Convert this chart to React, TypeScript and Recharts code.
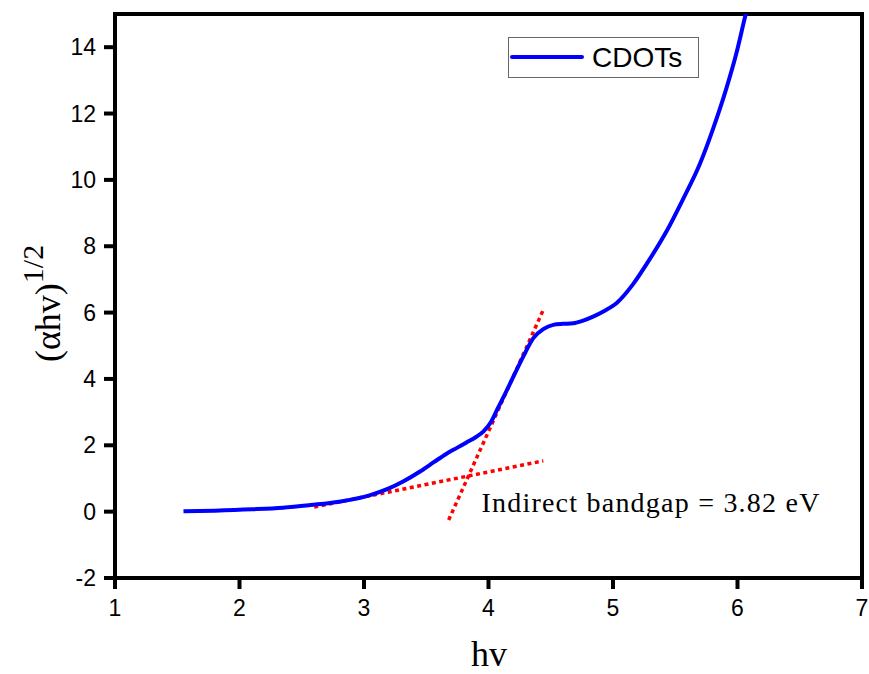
import React from 'react';
import { LineChart, Line, XAxis, YAxis, ReferenceArea, ReferenceDot, Legend } from 'recharts';

// photon energy hv (eV)
const hv = [1.55, 1.8, 2.1, 2.35, 2.57, 2.8, 3.05, 3.2, 3.31, 3.45, 3.56, 3.66, 3.75, 3.82, 3.9, 3.96, 4.02, 4.07, 4.12, 4.2, 4.28, 4.36, 4.44, 4.52, 4.6, 4.68, 4.76, 4.84, 4.93, 5.03, 5.16, 5.29, 5.43, 5.56, 5.7, 5.8, 5.91, 5.99, 6.06, 6.1];
// (alpha hv)^(1/2)
const alphaHv = [0.01, 0.03, 0.07, 0.12, 0.2, 0.3, 0.5, 0.7, 0.9, 1.21, 1.49, 1.74, 1.93, 2.08, 2.25, 2.42, 2.7, 3.08, 3.45, 4.07, 4.68, 5.23, 5.5, 5.63, 5.66, 5.68, 5.76, 5.88, 6.05, 6.29, 6.85, 7.58, 8.45, 9.4, 10.5, 11.5, 12.75, 13.8, 14.9, 15.5];

// tangent fits (red dotted)
const lowFitX = [2.6, 4.44];
const lowFitY = [0.14, 1.53];
const steepFitX = [3.68, 4.44];
const steepFitY = [-0.25, 6.08];

const xTicks = [1, 2, 3, 4, 5, 6, 7];
const yTicks = [-2, 0, 2, 4, 6, 8, 10, 12, 14];
const xDomain = [1, 7];
const yDomain = [-2, 15];

const seriesName = 'CDOTs';
const annotationText = 'Indirect bandgap = 3.82 eV';
const annotationX = 3.943;
const annotationY = 0;

const curveData = hv.map((x, i) => ({ x, y: alphaHv[i] }));
const lowFitData = lowFitX.map((x, i) => ({ x, y: lowFitY[i] }));
const steepFitData = steepFitX.map((x, i) => ({ x, y: steepFitY[i] }));

const SANS = '"Liberation Sans", Arial, Helvetica, sans-serif';
const SERIF = '"Liberation Serif", "Times New Roman", Times, serif';
const BLUE = '#0000ff';
const RED = '#ff0000';

const YLabel = () => {
  const x = 60;
  const y = 362;
  return (
    <text
      x={x}
      y={y}
      transform={`rotate(-90, ${x}, ${y})`}
      fontFamily={SERIF}
      fontSize={36}
      fill="#000"
      textAnchor="start"
    >
      <tspan>(αhv)</tspan>
      <tspan dy={-17} fontSize={30}>1/2</tspan>
    </text>
  );
};

const XLabel = () => (
  <text x={489} y={666} fontFamily={SERIF} fontSize={36} fill="#000" textAnchor="middle">
    hv
  </text>
);

const LegendBox = () => (
  <svg width={191} height={41} style={{ display: 'block' }}>
    <rect x={0.5} y={0.5} width={190} height={40} fill="#fff" stroke="#666" strokeWidth={1} />
    <line x1={4} y1={20} x2={74} y2={20} stroke={BLUE} strokeWidth={4} strokeLinecap="round" />
    <text x={84} y={30} fontFamily={SANS} fontSize={28} fill="#000">{seriesName}</text>
  </svg>
);

const AnnotationShape = (props: any) => (
  <text x={props.cx} y={props.cy} fontFamily={SERIF} fontSize={28} fill="#000" textLength={338} lengthAdjust="spacing">
    {annotationText}
  </text>
);

export default function App() {
  return (
    <div style={{ position: 'absolute', left: 0, top: 0 }}>
      <LineChart width={869} height={674} margin={{ top: 14, right: 7, bottom: 0, left: 0 }}>
        <XAxis
          type="number"
          dataKey="x"
          domain={xDomain}
          ticks={xTicks}
          allowDataOverflow
          height={96}
          tickSize={11}
          tickMargin={11}
          axisLine={{ stroke: '#000', strokeWidth: 4 }}
          tickLine={{ stroke: '#000', strokeWidth: 4 }}
          tick={{ fill: '#000', fontSize: 23, fontFamily: SANS }}
          label={{ content: XLabel }}
        />
        <YAxis
          type="number"
          dataKey="y"
          domain={yDomain}
          ticks={yTicks}
          allowDataOverflow
          width={115}
          tickSize={11}
          tickMargin={8}
          axisLine={{ stroke: '#000', strokeWidth: 4 }}
          tickLine={{ stroke: '#000', strokeWidth: 4 }}
          tick={{ fill: '#000', fontSize: 23, fontFamily: SANS }}
          label={{ content: YLabel }}
        />
        <ReferenceArea x1={1} x2={7} y1={-2} y2={15} fill="none" fillOpacity={0} stroke="#000" strokeWidth={4} />
        <Line
          data={lowFitData}
          dataKey="y"
          type="linear"
          stroke={RED}
          strokeWidth={3.5}
          strokeDasharray="4 3.5"
          dot={false}
          activeDot={false}
          legendType="none"
          isAnimationActive={false}
        />
        <Line
          data={steepFitData}
          dataKey="y"
          type="linear"
          stroke={RED}
          strokeWidth={3.5}
          strokeDasharray="4 3.5"
          dot={false}
          activeDot={false}
          legendType="none"
          isAnimationActive={false}
        />
        <Line
          data={curveData}
          dataKey="y"
          name={seriesName}
          type="monotone"
          stroke={BLUE}
          strokeWidth={4}
          dot={false}
          activeDot={false}
          isAnimationActive={false}
        />
        <ReferenceDot x={annotationX} y={annotationY} r={0} shape={AnnotationShape} />
        <Legend
          layout="vertical"
          align="center"
          verticalAlign="middle"
          wrapperStyle={{ left: 508, top: 37, width: 191, height: 41 }}
          content={LegendBox}
        />
      </LineChart>
    </div>
  );
}
